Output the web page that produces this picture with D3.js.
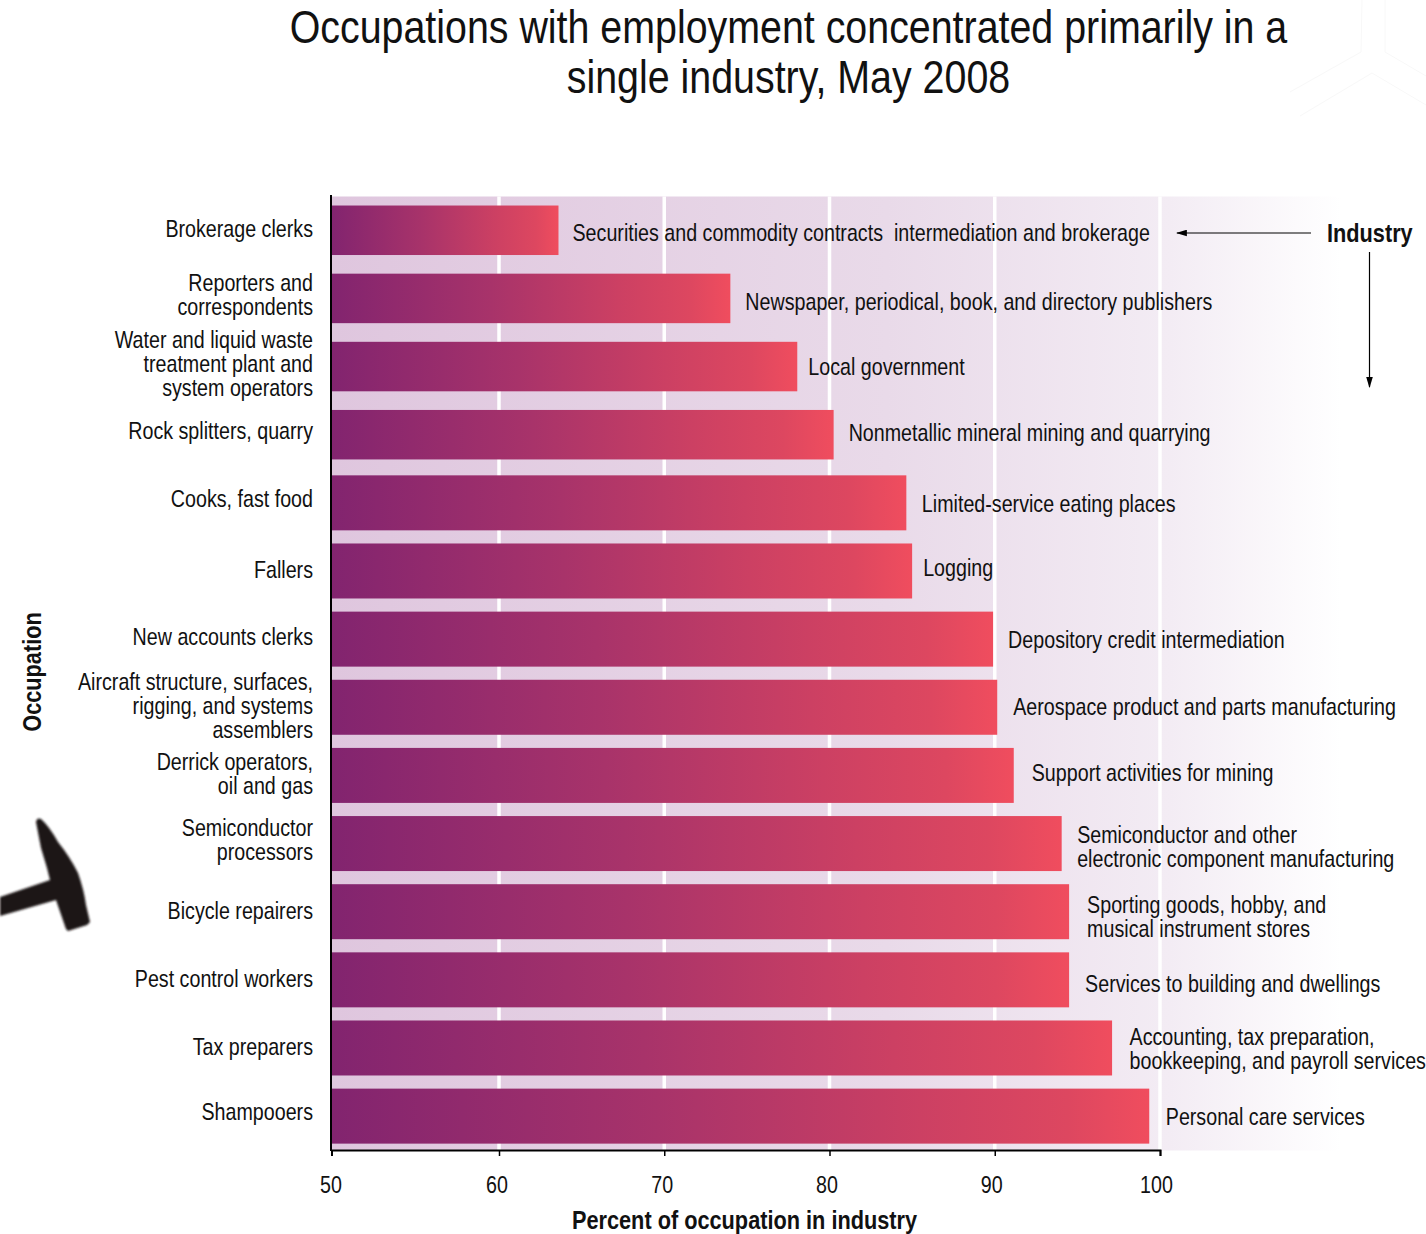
<!DOCTYPE html>
<html><head><meta charset="utf-8">
<script src="https://cdn.jsdelivr.net/npm/d3@7/dist/d3.min.js"></script>
<style>
html,body{margin:0;padding:0;background:#fff}
svg{display:block}
text{font-family:"Liberation Sans",Arial,sans-serif;fill:#111;white-space:pre}
</style></head><body>
<svg id="c" width="1426" height="1234"></svg>
<script>
const occupations = [
  ["Brokerage clerks"],
  ["Reporters and","correspondents"],
  ["Water and liquid waste","treatment plant and","system operators"],
  ["Rock splitters, quarry"],
  ["Cooks, fast food"],
  ["Fallers"],
  ["New accounts clerks"],
  ["Aircraft structure, surfaces,","rigging, and systems","assemblers"],
  ["Derrick operators,","oil and gas"],
  ["Semiconductor","processors"],
  ["Bicycle repairers"],
  ["Pest control workers"],
  ["Tax preparers"],
  ["Shampooers"]
];
const industries = [
  ["Securities and commodity contracts  intermediation and brokerage"],
  ["Newspaper, periodical, book, and directory publishers"],
  ["Local government"],
  ["Nonmetallic mineral mining and quarrying"],
  ["Limited-service eating places"],
  ["Logging"],
  ["Depository credit intermediation"],
  ["Aerospace product and parts manufacturing"],
  ["Support activities for mining"],
  ["Semiconductor and other","electronic component manufacturing"],
  ["Sporting goods, hobby, and","musical instrument stores"],
  ["Services to building and dwellings"],
  ["Accounting, tax preparation,","bookkeeping, and payroll services"],
  ["Personal care services"]
];
const percents = [63.6,74.0,78.05,80.25,84.65,85.0,89.9,90.15,91.15,94.05,94.5,94.5,97.1,99.35];
const xTicks = [50,60,70,80,90,100];

// layout tweaks, per row, in pixels
const occDy = [-1.5,-3,-3,-3.5,-4,-1,-2,-1.5,-1,-4,-1,-1,-0.5,-4.5];
const indDy = [2.5,4,0,-1.5,1,-3,1,-0.5,-2.5,3,5.5,4.5,1,1];
const indGap = [14,15,11,15,15.5,11,15,16,18,15.5,18,16,17.5,16.5];
const tickDx = [-0.5,-2,-2,-2.5,-3,-3.5];
const barH = i => i < 4 ? 49.5 : 55;

const svg = d3.select("#c");
const FS = 24, BFS = 26.5, SX = 0.82, SXT = 0.856;
const x = d3.scaleLinear().domain([50,60,100]).range([331.5,499,1160]);
const y = d3.scaleBand().domain(d3.range(occupations.length)).range([196.2,1150.2]).padding(0);
const rowC = i => y(i) + y.bandwidth()/2;

const defs = svg.append("defs");
const bg = defs.append("linearGradient").attr("id","bg");
[[0,"#dfc6de"],[0.55,"#e9dae9"],[0.83,"#f3ecf4"],[1,"#ffffff"]].forEach(s=>
  bg.append("stop").attr("offset",s[0]).attr("stop-color",s[1]));
const bar = defs.append("linearGradient").attr("id","bar");
[[0,"#82246f"],[0.4,"#a8336a"],[0.72,"#cc4063"],[0.9,"#dd4760"],[1,"#f04d5e"]].forEach(s=>
  bar.append("stop").attr("offset",s[0]).attr("stop-color",s[1]));
defs.append("filter").attr("id","soft").append("feGaussianBlur").attr("stdDeviation",0.8);
const mk = defs.append("marker").attr("id","ah").attr("viewBox","0 0 10 6").attr("refX",9).attr("refY",3)
  .attr("markerUnits","userSpaceOnUse").attr("markerWidth",11).attr("markerHeight",7).attr("orient","auto");
mk.append("path").attr("d","M0,0L10,3L0,6Z").attr("fill","#000");

// faint watermark, top right
svg.append("path").attr("fill","none").attr("stroke","#f8f8f8").attr("stroke-width",1)
  .attr("d","M1362,0L1361,52L1290,92M1385,0L1385,52L1426,76M1372,73L1300,116M1372,73L1426,105");

svg.append("rect").attr("x",331.5).attr("y",196.5).attr("width",1010).attr("height",954).attr("fill","url(#bg)");
svg.append("g").selectAll("line").data(xTicks.slice(1)).join("line")
  .attr("x1",d=>x(d)).attr("x2",d=>x(d)).attr("y1",196.5).attr("y2",1150)
  .attr("stroke","#fff").attr("stroke-width",3.5);

svg.append("g").selectAll("rect").data(percents).join("rect")
  .attr("x",x(50)).attr("width",d=>x(d)-x(50))
  .attr("y",(d,i)=>rowC(i)-barH(i)/2).attr("height",(d,i)=>barH(i))
  .attr("fill","url(#bar)");

function put(parent, t, px, py, anchor, size, sx, bold){
  return parent.append("text").attr("transform",`translate(${px},${py}) scale(${sx},1)`)
    .attr("text-anchor",anchor).attr("font-size",size).attr("font-weight",bold?"bold":null).text(t);
}

const ax = d3.axisBottom(x).tickValues(xTicks).tickSize(6).tickFormat("");
const gx = svg.append("g").attr("transform","translate(0,1150)").call(ax);
gx.select(".domain").attr("stroke","#000").attr("stroke-width",2);
gx.selectAll(".tick line").attr("stroke","#000").attr("stroke-width",1.5);
xTicks.forEach((t,i)=>put(svg,String(t),x(t)+tickDx[i],1193,"middle",FS,SX,false));
svg.append("line").attr("x1",331).attr("x2",331).attr("y1",195).attr("y2",1151).attr("stroke","#000").attr("stroke-width",2);

function lines(sel, arr, cx, cy, anchor){
  const lh = 24;
  const top = cy - (arr.length-1)*lh/2;
  arr.forEach((t,k)=>put(sel,t,cx,top+k*lh+8,anchor,FS,SX,false));
}
const occG = svg.append("g"), indG = svg.append("g");
occupations.forEach((o,i)=>lines(occG,o,313,rowC(i)+occDy[i],"end"));
industries.forEach((o,i)=>lines(indG,o,x(percents[i])+indGap[i],rowC(i)+indDy[i],"start"));

put(svg,"Occupations with employment concentrated primarily in a",788.5,43,"middle",46,SXT,false);
put(svg,"single industry, May 2008",788.5,93,"middle",46,SXT,false);
put(svg,"Percent of occupation in industry",744.5,1229,"middle",BFS,SX,true);
svg.append("text").attr("transform",`translate(41,672) rotate(-90) scale(${SX},1)`).attr("text-anchor","middle")
  .attr("font-size",BFS).attr("font-weight","bold").text("Occupation");
put(svg,"Industry",1327,242,"start",BFS,SX,true);

svg.append("line").attr("x1",1311).attr("x2",1177).attr("y1",233).attr("y2",233)
  .attr("stroke","#000").attr("stroke-width",1.2).attr("marker-end","url(#ah)");
svg.append("line").attr("x1",1369.5).attr("x2",1369.5).attr("y1",252).attr("y2",387)
  .attr("stroke","#000").attr("stroke-width",1.2).attr("marker-end","url(#ah)");

svg.append("path").attr("filter","url(#soft)").attr("fill","#1d1414")
  .attr("d","M0,897L50,880L47,868L41,848L36,822Q37,817 41,819Q49,826 58,842Q70,857 78,873Q84,890 86,905L90,922L87,925L68,931L66,929L56,900L0,916Z");
</script>
</body></html>
